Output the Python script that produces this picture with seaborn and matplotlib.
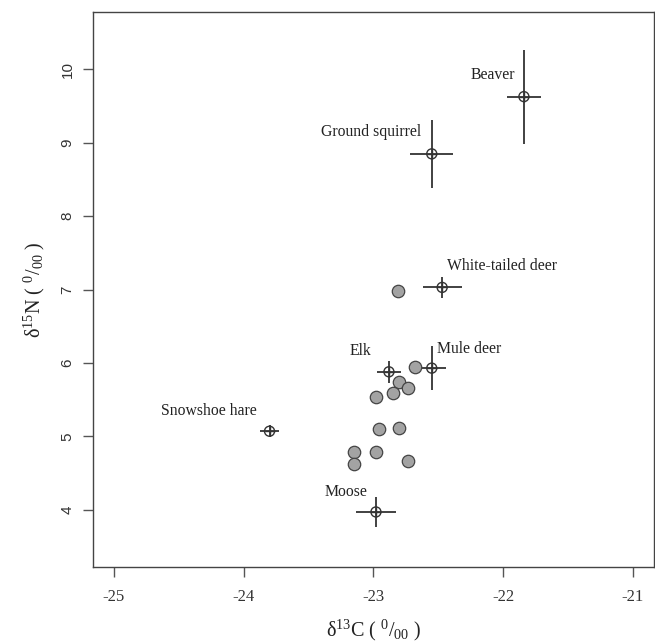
import matplotlib
matplotlib.use("Agg")
import matplotlib.pyplot as plt
import seaborn as sns
import pandas as pd

# Species means with error bars
species = ["Beaver", "Ground squirrel", "White-tailed deer", "Mule deer",
           "Elk", "Snowshoe hare", "Moose"]
mean_c = [-21.84, -22.55, -22.47, -22.55, -22.88, -23.80, -22.98]
mean_n = [9.63, 8.85, 7.03, 5.93, 5.88, 5.07, 3.97]
err_c = [0.13, 0.165, 0.15, 0.11, 0.09, 0.076, 0.155]
err_n = [0.64, 0.46, 0.14, 0.30, 0.15, 0.08, 0.21]
label_c = [-22.08, -23.02, -22.01, -22.26, -23.10, -24.27, -23.21]
label_n = [9.92, 9.15, 7.32, 6.19, 6.16, 5.35, 4.24]

# Individual samples (filled grey)
ind_c = [-22.81, -22.68, -22.80, -22.73, -22.85, -22.98, -22.96, -22.80,
         -23.15, -22.98, -23.15, -22.73]
ind_n = [6.98, 5.94, 5.74, 5.66, 5.59, 5.54, 5.10, 5.12,
         4.79, 4.79, 4.63, 4.66]

x_ticks = [-25, -24, -23, -22, -21]
y_ticks = [4, 5, 6, 7, 8, 9, 10]

sns.set_theme(style="white")
plt.rcParams["font.family"] = ["Liberation Serif", "DejaVu Serif"]
plt.rcParams["mathtext.fontset"] = "custom"
plt.rcParams["mathtext.rm"] = "Liberation Serif"
plt.rcParams["mathtext.it"] = "Liberation Serif:italic"
plt.rcParams["mathtext.bf"] = "Liberation Serif:bold"

fig = plt.figure(figsize=(6.55, 6.44), dpi=100)
ax = fig.add_axes([0.142, 0.1196, 0.856, 0.8614])

line_col = "#333333"

df_ind = pd.DataFrame({"c": ind_c, "n": ind_n})
df_mean = pd.DataFrame({"c": mean_c, "n": mean_n, "species": species})

ax.errorbar(mean_c, mean_n, xerr=err_c, yerr=err_n, fmt="none",
            ecolor=line_col, elinewidth=1.3, capsize=0, zorder=2)
sns.scatterplot(data=df_ind, x="c", y="n", ax=ax, s=80, color="#a3a3a3",
                edgecolor="#444444", linewidth=0.9, zorder=3)
sns.scatterplot(data=df_mean, x="c", y="n", ax=ax, s=52, marker="o",
                facecolor="none", edgecolor=line_col, linewidth=1.0, zorder=4)
sns.scatterplot(data=df_mean, x="c", y="n", ax=ax, s=52, marker="+",
                color=line_col, linewidth=1.0, zorder=4)

for name, lx, ly in zip(species, label_c, label_n):
    ax.text(lx, ly, name, ha="center", va="center", fontsize=11.3,
            color="#222222")

ax.set_xlim(-25.16, -20.84)
ax.set_ylim(3.22, 10.78)
ax.set_xticks(x_ticks)
ax.set_yticks(y_ticks)
ax.set_xticklabels([str(v) for v in x_ticks], fontsize=12)
ax.set_yticklabels([str(v) for v in y_ticks], fontsize=11, rotation=90,
                   va="center", family=["Liberation Sans", "DejaVu Sans"])
ax.tick_params(axis="both", direction="out", length=7.2, width=1,
               color="#555555", bottom=True, left=True,
               labelcolor="#333333")
ax.tick_params(axis="x", pad=9)
ax.tick_params(axis="y", pad=6)

ax.set_xlabel(r"$\mathrm{\delta}^{13}$C ( $^{0}/_{00}$ )", fontsize=14.5,
              color="#222222", labelpad=9)
ax.set_ylabel(r"$\mathrm{\delta}^{15}$N ( $^{0}/_{00}$ )", fontsize=14.5,
              color="#222222", labelpad=10)

for sp in ax.spines.values():
    sp.set_color("#444444")
    sp.set_linewidth(1.0)

fig.savefig("out.png", dpi=100)
